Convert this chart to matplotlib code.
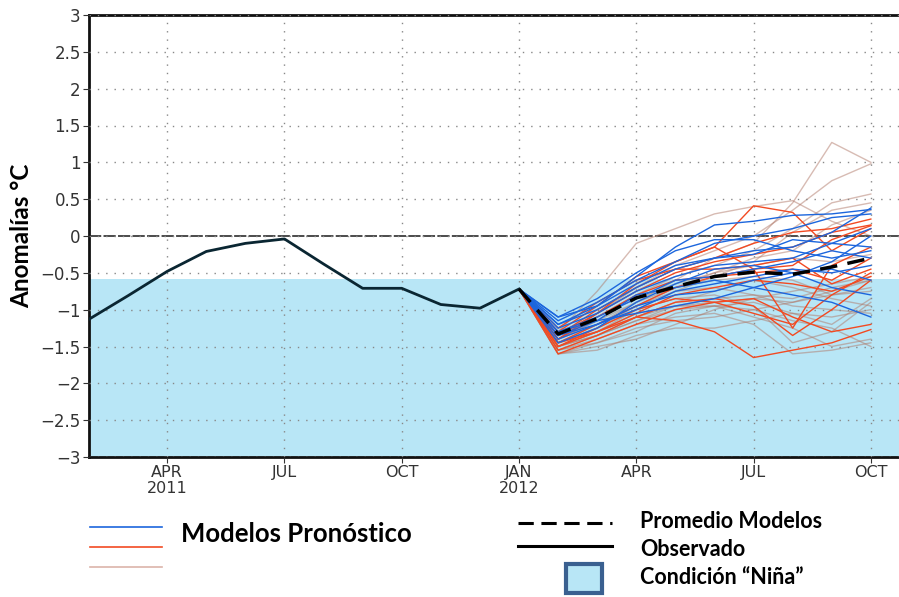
import numpy as np
import matplotlib.pyplot as plt
from matplotlib.lines import Line2D
from matplotlib.patches import Rectangle

# months counted from Jan 2011 = 0
obs_months = list(range(1, 13))
observed = [-1.13, -0.81, -0.48, -0.21, -0.10, -0.04, -0.38, -0.71, -0.71, -0.93, -0.98, -0.72]

fc_months = list(range(12, 22))  # Jan 2012 .. Oct 2012
average = [-0.72, -1.33, -1.12, -0.84, -0.69, -0.55, -0.49, -0.52, -0.42, -0.30]

# model runs, Feb..Oct 2012 (Jan is the observed start)
blue_models = [
    [-1.10, -0.95, -0.55, -0.15, 0.15, 0.20, 0.28, 0.30, 0.36],
    [-1.15, -0.90, -0.60, -0.35, -0.10, 0.00, 0.10, 0.25, 0.30],
    [-1.20, -1.00, -0.70, -0.45, -0.30, -0.25, -0.05, -0.10, -0.15],
    [-1.25, -1.05, -0.75, -0.55, -0.40, -0.35, -0.30, -0.10, 0.10],
    [-1.30, -1.10, -0.85, -0.60, -0.55, -0.45, -0.35, -0.20, -0.30],
    [-1.35, -1.15, -0.80, -0.70, -0.60, -0.70, -0.80, -0.90, -1.10],
    [-1.40, -1.20, -0.95, -0.80, -0.75, -0.60, -0.50, -0.45, -0.60],
    [-1.10, -0.85, -0.50, -0.20, -0.05, -0.05, -0.20, -0.30, -0.20],
    [-1.30, -1.15, -1.05, -0.95, -0.85, -0.70, -0.55, -0.35, 0.00],
    [-1.45, -1.25, -0.90, -0.65, -0.45, -0.40, -0.50, -0.70, -0.80],
    [-1.20, -0.95, -0.65, -0.40, -0.30, -0.20, -0.15, 0.05, 0.38],
    [-1.35, -1.20, -1.00, -0.75, -0.65, -0.55, -0.45, -0.50, -0.40],
]
red_models = [
    [-1.40, -1.05, -0.65, -0.35, -0.15, 0.41, 0.32, -0.20, 0.10],
    [-1.30, -0.95, -0.55, -0.35, -0.15, -0.45, -1.25, -0.40, -0.15],
    [-1.50, -1.30, -1.10, -1.15, -1.30, -1.65, -1.55, -1.45, -1.27],
    [-1.35, -1.00, -0.70, -0.45, -0.30, -0.10, 0.05, 0.10, 0.23],
    [-1.45, -1.20, -0.95, -0.70, -0.55, -0.45, -0.40, -0.05, 0.14],
    [-1.55, -1.35, -1.10, -0.90, -0.85, -0.95, -1.35, -1.00, -0.60],
    [-1.25, -0.90, -0.60, -0.45, -0.45, -0.40, -0.30, -0.65, -0.45],
    [-1.50, -1.25, -1.00, -0.85, -0.90, -1.05, -1.20, -0.80, -0.50],
    [-1.40, -1.10, -0.80, -0.60, -0.55, -0.50, -0.45, -0.60, -0.30],
    [-1.60, -1.40, -1.20, -1.00, -0.90, -0.85, -1.10, -1.30, -1.20],
    [-1.35, -1.05, -0.75, -0.50, -0.35, -0.25, -0.15, 0.05, 0.15],
    [-1.45, -1.30, -1.05, -0.80, -0.70, -0.60, -0.65, -0.75, -0.55],
]
rosy_models = [
    [-1.45, -1.20, -0.90, -0.60, -0.30, -0.10, 0.45, 1.27, 1.00],
    [-1.30, -0.75, -0.10, 0.10, 0.30, 0.40, 0.48, 0.20, 0.00],
    [-1.35, -1.05, -0.70, -0.40, -0.20, 0.00, 0.35, 0.75, 0.98],
    [-1.40, -1.15, -0.80, -0.55, -0.40, -0.20, 0.10, 0.45, 0.57],
    [-1.50, -1.30, -1.00, -0.75, -0.55, -0.35, 0.05, 0.35, 0.45],
    [-1.55, -1.45, -1.30, -1.05, -0.95, -0.90, -1.05, -1.20, -0.85],
    [-1.60, -1.50, -1.40, -1.20, -1.00, -0.85, -0.90, -0.75, -0.60],
    [-1.50, -1.35, -1.15, -0.95, -0.85, -0.80, -0.95, -1.00, -1.05],
    [-1.45, -1.25, -1.00, -0.85, -0.80, -0.95, -1.45, -1.30, -0.90],
    [-1.55, -1.40, -1.20, -1.10, -1.05, -1.20, -1.60, -1.55, -1.45],
    [-1.40, -1.20, -0.95, -0.75, -0.70, -0.80, -0.85, -0.70, -0.60],
    [-1.60, -1.45, -1.25, -1.15, -1.10, -1.00, -0.90, -0.80, -0.70],
    [-1.50, -1.30, -1.10, -0.90, -0.75, -0.60, -0.70, -0.85, -0.95],
    [-1.35, -1.10, -0.85, -0.65, -0.50, -0.40, -0.30, -0.35, -0.25],
    [-1.45, -1.30, -1.05, -0.95, -0.95, -1.10, -1.25, -1.50, -1.40],
    [-1.55, -1.35, -1.10, -0.95, -0.90, -0.85, -0.75, -0.65, -0.55],
    [-1.40, -1.15, -0.90, -0.70, -0.60, -0.55, -0.60, -0.80, -0.75],
    [-1.60, -1.55, -1.35, -1.25, -1.25, -1.15, -1.05, -1.10, -1.00],
    [-1.45, -1.25, -0.95, -0.70, -0.50, -0.30, -0.20, 0.15, 0.35],
    [-1.50, -1.35, -1.15, -1.00, -0.95, -1.00, -1.15, -1.25, -1.50],
]

nina_threshold = -0.58
tick_months = [3, 6, 9, 12, 15, 18, 21]
tick_labels = ['APR\n2011', 'JUL', 'OCT', 'JAN\n2012', 'APR', 'JUL', 'OCT']
y_ticks = np.arange(-3, 3.01, 0.5)

BLUE = '#1c66dd'
RED = '#f24a22'
ROSY = '#b07868'
SHADE = '#b8e6f6'
TICK_FONT = ['Liberation Sans Narrow', 'DejaVu Sans']

W, H = 899, 597
fig = plt.figure(figsize=(W / 100, H / 100), dpi=100)
ax = fig.add_axes([89 / W, 1 - 457 / H, (W - 89) / W, (457 - 15) / H])

ax.axhspan(-3, nina_threshold, color=SHADE, zorder=0, lw=0)
ax.axhline(0, color='#1a1a1a', lw=1.1, ls=(0, (8, 1.5)), zorder=1)

start = observed[-1]
for m in rosy_models:
    ax.plot(fc_months, [start] + m, color=ROSY, lw=1, alpha=0.5, zorder=2)
for m in red_models:
    ax.plot(fc_months, [start] + m, color=RED, lw=1, zorder=3)
for m in blue_models:
    ax.plot(fc_months, [start] + m, color=BLUE, lw=1, zorder=3)

ax.plot(obs_months, observed, color='#0a2632', lw=2, zorder=5)
ax.plot(fc_months, average, color='black', lw=2.5, ls=(0, (5, 3)), zorder=6)

ax.set_xlim(1, 21.72)
ax.set_ylim(-3, 3)
ax.set_xticks(tick_months)
ax.set_xticklabels(tick_labels, fontsize=11.5, color='#333333', linespacing=1.05,
                   family=TICK_FONT)
ax.set_yticks(y_ticks)
ax.set_yticklabels([f'{v:g}'.replace('-', '\u2212') for v in y_ticks], fontsize=12,
                   color='#333333', family=TICK_FONT)
ax.tick_params(axis='both', direction='out', length=4, width=0.8, color='#333333', pad=2)
ax.grid(True, color='#888888', ls=(0, (1, 5)), lw=1)
ax.set_axisbelow(False)

for s in ['top', 'left', 'bottom']:
    ax.spines[s].set_linewidth(2)
    ax.spines[s].set_color('#111111')
ax.spines['right'].set_visible(False)

fig.text(22 / W, 1 - 236 / H, 'Anomalías °C', rotation=90, fontsize=17.5, fontweight='bold',
         family='Lato', ha='center', va='center')

# legend drawn below the axes
def fx(px):
    return px / W

def fy(py):
    return 1 - py / H

for py, c in [(527, BLUE), (547, RED), (567, '#dcb4aa')]:
    fig.add_artist(Line2D([fx(90), fx(162)], [fy(py), fy(py)], color=c, lw=1.2))
fig.text(fx(181), fy(534), 'Modelos Pronóstico', fontsize=18.5, fontweight='bold',
         family='Lato', va='center')

fig.add_artist(Line2D([fx(518), fx(612)], [fy(523), fy(523)], color='black', lw=2.2, ls=(0, (5, 2.5))))
fig.add_artist(Line2D([fx(518), fx(612)], [fy(546), fy(546)], color='black', lw=2.2))
fig.add_artist(Rectangle((fx(566), fy(593)), fx(36), 29 / H, facecolor=SHADE,
                         edgecolor='#3a6090', lw=3))
for py, txt in [(522, 'Promedio Modelos'), (549, 'Observado'), (578, 'Condición \u201cNiña\u201d')]:
    fig.text(fx(640), fy(py), txt, fontsize=15.5, fontweight='bold', family='Lato', va='center')

fig.savefig('out.png', dpi=100)
